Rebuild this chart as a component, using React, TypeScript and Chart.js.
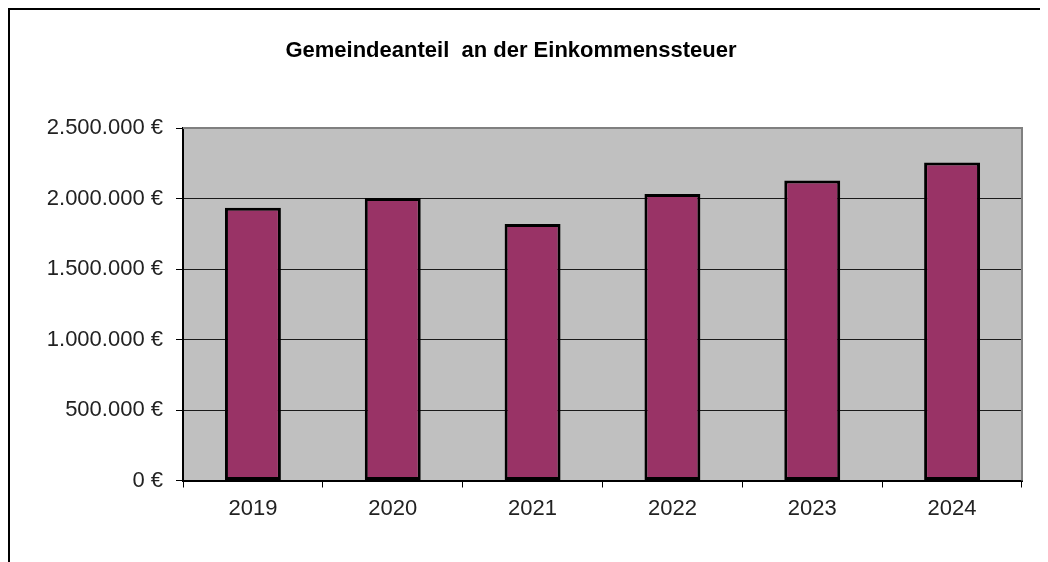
import React, { useEffect, useRef } from "react";
import { Chart, registerables } from "chart.js";

Chart.register(...registerables);

const chartTitle = "Gemeindeanteil  an der Einkommenssteuer";
const years = ["2019", "2020", "2021", "2022", "2023", "2024"];
const revenue = [1935000, 2003000, 1820000, 2032000, 2127000, 2255000];
const yTickValues = [0, 500000, 1000000, 1500000, 2000000, 2500000];

const FONT = "'Liberation Sans', Arial, sans-serif";

function formatEuro(v: number): string {
  const s = Math.round(v).toString().replace(/\B(?=(\d{3})+(?!\d))/g, ".");
  return s + " €";
}

const framePlugin = {
  id: "framePlugin",
  beforeDraw(chart: any) {
    const { ctx, chartArea } = chart;
    ctx.save();
    ctx.fillStyle = "#ffffff";
    ctx.fillRect(0, 0, chart.width, chart.height);
    ctx.fillStyle = "#C0C0C0";
    ctx.fillRect(chartArea.left, chartArea.top, chartArea.right - chartArea.left, chartArea.bottom - chartArea.top);
    ctx.strokeStyle = "#000000";
    ctx.lineWidth = 2;
    ctx.beginPath();
    ctx.moveTo(1, chart.height);
    ctx.lineTo(1, 1);
    ctx.lineTo(chart.width, 1);
    ctx.stroke();
    ctx.restore();
  },
  afterDatasetsDraw(chart: any) {
    const { ctx, chartArea } = chart;
    ctx.save();
    ctx.strokeStyle = "#808080";
    ctx.lineWidth = 2;
    ctx.beginPath();
    ctx.moveTo(chartArea.left, chartArea.top);
    ctx.lineTo(chartArea.right, chartArea.top);
    ctx.lineTo(chartArea.right, chartArea.bottom);
    ctx.stroke();
    ctx.fillStyle = "#000000";
    ctx.font = "bold 22px " + FONT;
    ctx.textAlign = "center";
    ctx.textBaseline = "middle";
    ctx.fillText(chartTitle, 503, 43);
    ctx.restore();
  },
};

export default function App() {
  const ref = useRef<HTMLCanvasElement | null>(null);

  useEffect(() => {
    document.documentElement.style.overflow = "hidden";
    const canvas = ref.current;
    if (!canvas) return;
    const chart = new Chart(canvas, {
      type: "bar",
      data: {
        labels: years,
        datasets: [
          {
            data: revenue,
            backgroundColor: "#993366",
            borderColor: "#000000",
            borderWidth: 3,
            borderSkipped: false,
            barPercentage: 0.4,
            categoryPercentage: 1.0,
          },
        ],
      },
      options: {
        responsive: false,
        animation: false,
        devicePixelRatio: 1,
        layout: { padding: { top: 120, right: 18, left: 0, bottom: 0 } },
        plugins: {
          legend: { display: false },
          title: { display: false },
          tooltip: { enabled: false },
        },
        scales: {
          x: {
            offset: true,
            grid: {
              offset: true,
              drawOnChartArea: false,
              drawTicks: true,
              tickLength: 7,
              color: "#000000",
              lineWidth: 1,
            },
            border: { color: "#000000", width: 2 },
            ticks: {
              color: "#222222",
              font: { family: FONT, size: 22 },
              padding: 8,
              maxRotation: 0,
            },
            afterFit(scale: any) {
              scale.height = 87.5;
            },
          },
          y: {
            min: 0,
            max: 2500000,
            afterBuildTicks(scale: any) {
              scale.ticks = yTickValues.map((v) => ({ value: v }));
            },
            grid: {
              color: "#1a1a1a",
              lineWidth: 1,
              drawTicks: true,
              tickLength: 7,
              tickColor: "#000000",
            },
            border: { color: "#000000", width: 2 },
            ticks: {
              color: "#222222",
              font: { family: FONT, size: 22 },
              padding: 13,
              callback: (v: any) => formatEuro(Number(v)),
            },
            afterFit(scale: any) {
              scale.width = 175;
            },
          },
        },
      },
      plugins: [framePlugin],
    });
    return () => chart.destroy();
  }, []);

  return <canvas ref={ref} width={1032} height={560} style={{ display: "block" }} />;
}
